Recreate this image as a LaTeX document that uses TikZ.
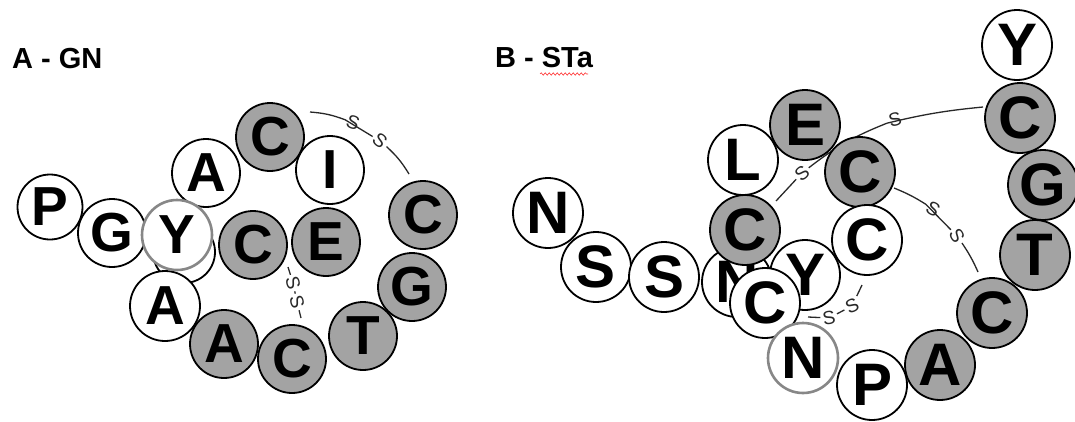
\documentclass[tikz,border=0pt]{standalone}
\usepackage{fontspec}
\setmainfont{Liberation Sans}
\usepackage{tikz}
\usetikzlibrary{decorations.pathmorphing}
\definecolor{resgray}{RGB}{163,163,163}
\definecolor{rimgray}{RGB}{135,135,135}
\definecolor{bondgray}{RGB}{40,40,40}

\begin{document}
\begin{tikzpicture}[x=1pt,y=-1pt,inner sep=0pt,
  res/.style={circle,draw=black,line width=1.8pt,fill=white,minimum size=68pt,
    font=\bfseries\fontsize{55}{55}\selectfont},
  cys/.style={res,fill=resgray},
  rim/.style={res,draw=rimgray,line width=2.6pt},
  resb/.style={res,minimum size=70pt,font=\bfseries\fontsize{60}{60}\selectfont},
  cysb/.style={resb,fill=resgray},
  rimb/.style={resb,draw=rimgray,line width=2.6pt},
  ss/.style={inner sep=2pt,text=bondgray,font=\fontsize{19}{19}\selectfont},
  bond/.style={draw=bondgray,line width=1.3pt}]
\useasboundingbox (0,0) rectangle (1075,421);
\fill [white] (0,0) rectangle (1075,421);

% labels
\node at (12,68) [anchor=base west,font=\bfseries\fontsize{29}{29}\selectfont] (LabA) {A - GN};
\node at (495,67) [anchor=base west,font=\bfseries\fontsize{29}{29}\selectfont] (LabB) {B - STa};
\draw [red!80,line width=0.6pt,decorate,decoration={snake,amplitude=1.2pt,segment length=4pt}]
  (540,74) -- (588,74);

% A - GN, disulfide bonds
\coordinate (GNb1) at (310,112);
\coordinate (GNb2) at (409,174);
\node at (353,123) [ss,rotate=-20] (GNs1) {S};
\node at (380,141) [ss,rotate=-40] (GNs2) {S};
\draw [bond] (GNb1) to[bend left=8] (GNs1) -- (GNs2) to[bend left=8] (GNb2);
\coordinate (GNb3) at (288,267);
\coordinate (GNb4) at (301,318);
\node at (293,283) [ss,rotate=-75] (GNs3) {S};
\node at (297,302) [ss,rotate=-75] (GNs4) {S};
\draw [bond] (GNb3) -- (GNs3) -- (GNs4) -- (GNb4);

% A - GN, residues
\node at (50,207) [res,minimum size=65pt] (GN1) {P};
\node at (112,233) [res] (GN2) {G};
\node at (184,252) [res,minimum size=62pt] (GN3) {};
\node at (165,306) [res,minimum size=70pt] (GN4) {A};
\node at (224,344) [cys] (GN5) {A};
\node at (292,359) [cys] (GN6) {C};
\node at (363,336) [cys] (GN7) {T};
\node at (412,287) [cys] (GN8) {G};
\node at (423,215) [cys] (GN9) {C};
\node at (330,170) [res] (GN10) {I};
\node at (270,137) [cys] (GN11) {C};
\node at (206,173) [res] (GN12) {A};
\node at (253,245) [cys] (GN13) {C};
\node at (326,242) [cys] (GN14) {E};
\node at (177,235) [rim,minimum size=70pt] (GN15) {Y};

% B - STa, disulfide bonds
\coordinate (STb1) at (776,201);
\coordinate (STb2) at (983,107);
\node at (802,173) [ss,rotate=40] (STs1) {S};
\node at (895,120) [ss,rotate=15] (STs2) {S};
\draw [bond] (STb1) -- (STs1) to[bend left=8] (STs2) to[bend left=4] (STb2);
\coordinate (STb3) at (894,188);
\coordinate (STb4) at (978,272);
\node at (933,209) [ss,rotate=-30] (STs3) {S};
\node at (957,236) [ss,rotate=-60] (STs4) {S};
\draw [bond] (STb3) to[bend left=5] (STs3) -- (STs4) to[bend left=5] (STb4);
\coordinate (STb5) at (862,285);
\coordinate (STb6) at (808,317);
\node at (829,318) [ss,rotate=10] (STs5) {S};
\node at (852,306) [ss,rotate=25] (STs6) {S};
\draw [bond] (STb6) -- (STs5) -- (STs6) -- (STb5);

% B - STa, residues
\node at (548,213) [resb] (ST1) {N};
\node at (596,267) [resb] (ST2) {S};
\node at (664,277) [resb] (ST3) {S};
\node at (737,282) [resb] (ST4) {N};
\node at (805,275) [resb] (ST5) {Y};
\node at (745,230) [cysb] (ST6) {C};
\node at (765,303) [resb] (ST7) {C};
\node at (743,160) [resb] (ST8) {L};
\node at (805,125) [cysb] (ST9) {E};
\node at (860,172) [cysb] (ST10) {C};
\node at (867,240) [resb] (ST11) {C};
\node at (803,358) [rimb] (ST12) {N};
\node at (872,385) [resb] (ST13) {P};
\node at (940,365) [cysb] (ST14) {A};
\node at (992,313) [cysb] (ST15) {C};
\node at (1035,255) [cysb] (ST16) {T};
\node at (1043,185) [cysb] (ST17) {G};
\node at (1020,118) [cysb] (ST18) {C};
\node at (1017,45) [resb] (ST19) {Y};

\end{tikzpicture}
\end{document}
